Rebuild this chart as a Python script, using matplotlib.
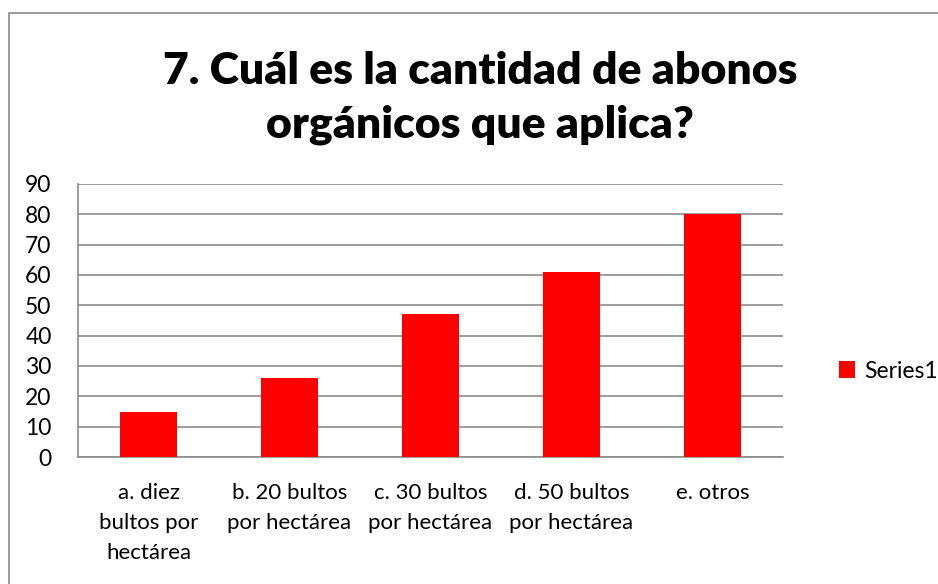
#!/usr/bin/env python
"""Bar chart: cantidad de abonos organicos."""
import matplotlib
matplotlib.use('Agg')
import matplotlib.pyplot as plt
from matplotlib.patches import Rectangle

categories = ['a. diez\nbultos por\nhectárea',
              'b. 20 bultos\npor hectárea',
              'c. 30 bultos\npor hectárea',
              'd. 50 bultos\npor hectárea',
              'e. otros']
values = [15, 26, 47, 61, 80]
series_name = 'Series1'
title = '7. Cuál es la cantidad de abonos\norgánicos que aplica?'
yticks = list(range(0, 100, 10))

plt.rcParams['font.family'] = ['Lato', 'DejaVu Sans']

W, H = 938, 584
fig = plt.figure(figsize=(W / 100, H / 100), dpi=100)

# chart border (right/bottom edges fall outside the image)
fig.patches.append(Rectangle((8.5 / W, -0.1), 1.2, 1.1 - 13 / H,
                             transform=fig.transFigure, fill=False,
                             edgecolor='#8c8c8c', linewidth=1.2))

ax = fig.add_axes([78 / W, 1 - 457 / H, (783 - 78) / W, (457 - 184) / H])
x = range(len(values))
ax.bar(x, values, width=0.4, color='#ff0000', label=series_name, zorder=3)
ax.set_xlim(-0.5, len(values) - 0.5)
ax.set_ylim(0, 90)
ax.set_yticks(yticks)
ax.set_xticks(list(x))
ax.set_xticklabels(categories, fontsize=16, linespacing=1.62)
ax.tick_params(axis='y', labelsize=16.5, length=0, pad=19)
ax.tick_params(axis='x', length=0, pad=19)
ax.grid(axis='y', color='#8c8c8c', linewidth=1.2, zorder=0)
for side in ['top', 'right']:
    ax.spines[side].set_visible(False)
for side in ['left', 'bottom']:
    ax.spines[side].set_color('#8c8c8c')
    ax.spines[side].set_linewidth(1.2)

fig.text(480 / W, 1 - 98 / H, title, ha='center', va='center',
         fontsize=32, fontweight='heavy', linespacing=1.38)

ax.legend(loc='center left', bbox_to_anchor=(818 / W, 1 - 371 / H),
          bbox_transform=fig.transFigure, frameon=False, fontsize=16.5,
          handlelength=0.7, handleheight=0.7, handletextpad=0.4)

fig.savefig('out.png', dpi=100)
